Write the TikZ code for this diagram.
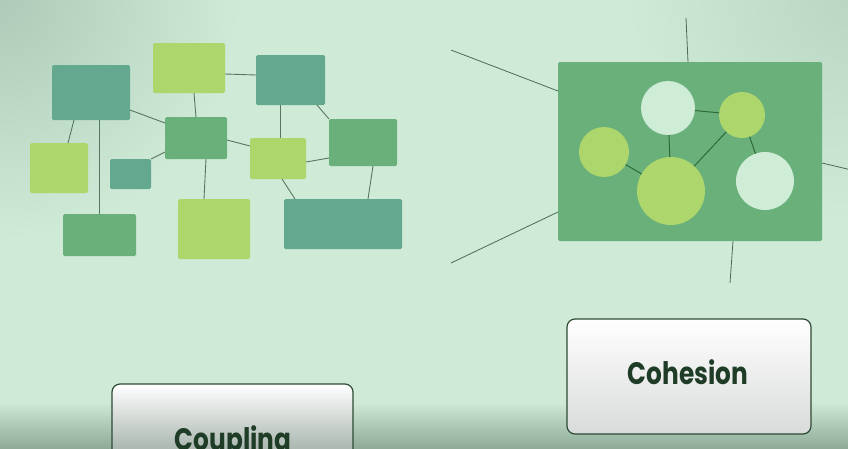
\documentclass[tikz,border=0pt]{standalone}
\usepackage{fontspec}
\newfontfamily\labelfont{Poppins}
\usetikzlibrary{calc}
\definecolor{bg}{HTML}{CFEBD7}
\definecolor{vigL}{HTML}{ADCBB8}
\definecolor{vigR}{HTML}{BAD7C3}
\definecolor{band}{HTML}{8EAB97}
\definecolor{teal1}{HTML}{63A88F}
\definecolor{mid1}{HTML}{69B07A}
\definecolor{lime1}{HTML}{ADD66D}
\definecolor{pale1}{HTML}{CFECD6}
\definecolor{connc}{HTML}{55775F}
\definecolor{innerc}{HTML}{2E6A3B}
\definecolor{outerc}{HTML}{4C6B56}
\definecolor{framec}{HTML}{2D4A35}
\definecolor{textc}{HTML}{1F3D26}
\definecolor{greyb}{HTML}{D8DBD9}
\definecolor{greyc}{HTML}{9AA8A0}
\begin{document}
\begin{tikzpicture}[x=1pt,y=-1pt,
  blk/.style={rectangle, rounded corners=1.5pt, inner sep=0pt, outer sep=0pt},
  tealbox/.style={blk, fill=teal1},
  midbox/.style={blk, fill=mid1},
  limebox/.style={blk, fill=lime1},
  conn/.style={draw=connc, line width=0.9pt},
  outline/.style={draw=outerc, line width=0.8pt},
  inline/.style={draw=innerc, line width=1pt},
  ball/.style={circle, inner sep=0pt, outer sep=0pt},
  labeltext/.style={font=\labelfont\bfseries\fontsize{31}{31}\selectfont, text=textc, inner sep=0pt}
]
\useasboundingbox (0,0) rectangle (848,448);
\clip (0,0) rectangle (848,448);
% background
\fill[bg] (0,0) rectangle (848,448);
\shade[inner color=vigL, outer color=bg] (0,0) circle (240);
\shade[inner color=vigR, outer color=bg] (848,0) circle (220);
\shade[top color=bg, bottom color=band] (0,402) rectangle (848,448);

% ---------- coupling graph ----------
\node[tealbox, minimum width=78pt, minimum height=55pt] (A) at (91,92.5) {};
\node[limebox, minimum width=72pt, minimum height=50pt] (B) at (189,68) {};
\node[tealbox, minimum width=69pt, minimum height=50pt] (C) at (290.5,80) {};
\node[midbox,  minimum width=62pt, minimum height=42pt] (D) at (196,138) {};
\node[limebox, minimum width=58pt, minimum height=50pt] (E) at (59,168) {};
\node[tealbox, minimum width=41pt, minimum height=30pt] (F) at (130.5,174) {};
\node[limebox, minimum width=56pt, minimum height=41pt] (G) at (278,158.5) {};
\node[midbox,  minimum width=68pt, minimum height=47pt] (H) at (363,142.5) {};
\node[midbox,  minimum width=73pt, minimum height=42pt] (I) at (99.5,235) {};
\node[limebox, minimum width=72pt, minimum height=60pt] (J) at (214,229) {};
\node[tealbox, minimum width=118pt, minimum height=50pt] (K) at (343,224) {};

\draw[conn] ($(A.south)+(-17,0)$) -- ($(E.north)+(9,0)$);
\draw[conn] (I.north |- A.south) -- (I.north);
\draw[conn] ($(A.east)+(0,17.5)$) -- ($(D.west)+(0,-15)$);
\draw[conn] ($(B.south)+(5,0)$) -- (D.north);
\draw[conn] ($(B.east)+(0,6)$) -- ($(C.west)+(0,-5)$);
\draw[conn] ($(D.west)+(0,14)$) -- (F.north east);
\draw[conn] ($(D.south)+(10,0)$) -- ($(J.north)+(-10,0)$);
\draw[conn] ($(D.east)+(0,2)$) -- ($(G.west)+(0,-12.5)$);
\draw[conn] ($(C.south)+(-10.5,0)$) -- ($(G.north)+(2,0)$);
\draw[conn] ($(C.south)+(26.5,0)$) -- (H.north west);
\draw[conn] ($(G.east)+(0,3.5)$) -- ($(H.west)+(0,15.5)$);
\draw[conn] ($(G.south)+(4,0)$) -- ($(K.north)+(-48,0)$);
\draw[conn] ($(H.south)+(10,0)$) -- ($(K.north)+(25,0)$);

% ---------- cohesion module ----------
\node[midbox, minimum width=264pt, minimum height=179pt] (M) at (690,151.5) {};
\coordinate (o1) at (451,50);
\coordinate (o2) at (451,263);
\coordinate (o3) at (686,18);
\coordinate (o4) at (860,172);
\coordinate (o5) at (730,283);
\draw[outline] (o1) -- ($(M.west)+(0,-60.5)$);
\draw[outline] (o2) -- ($(M.west)+(0,60.5)$);
\draw[outline] (o3) -- ($(M.north)+(-2,0)$);
\draw[outline] ($(M.east)+(0,11.5)$) -- (o4);
\draw[outline] ($(M.south)+(43,0)$) -- (o5);

\node[ball, fill=pale1, minimum size=54pt] (P) at (668,108) {};
\node[ball, fill=lime1, minimum size=46pt] (Q) at (742,115) {};
\node[ball, fill=lime1, minimum size=50pt] (R) at (604,152) {};
\node[ball, fill=lime1, minimum size=68pt] (S) at (671,191) {};
\node[ball, fill=pale1, minimum size=58pt] (T) at (765,181) {};
\draw[inline] (P) -- (S);
\draw[inline] (R) -- (S);
\draw[inline] (S) -- (Q);
\draw[inline] (P) -- (Q);
\draw[inline] (Q) -- (T);

% ---------- labels ----------
\shade[top color=white, middle color=white, bottom color=greyb, draw=framec, line width=1.2pt, rounded corners=8pt]
  (567,319) rectangle (811,434);
\node[labeltext, anchor=base] (cohesion) at (688,384) {\scalebox{0.8}[1]{Cohesion}};
\shade[top color=white, middle color=white!94!gray, bottom color=greyc, draw=framec, line width=1.2pt, rounded corners=8pt]
  (112,384) rectangle (353,462);
\node[labeltext, anchor=base] (coupling) at (233,450) {\scalebox{0.8}[1]{Coupling}};
\end{tikzpicture}
\end{document}
